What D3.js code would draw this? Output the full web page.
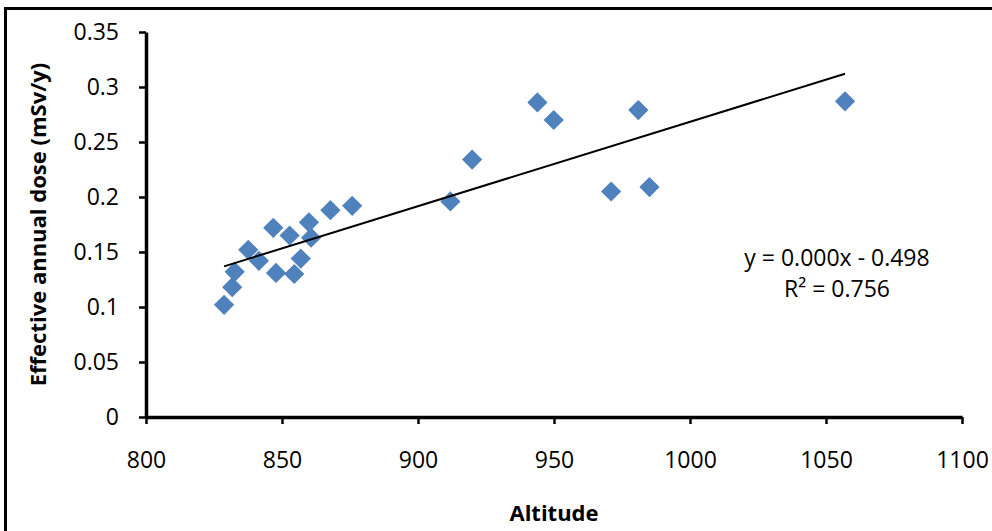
<!DOCTYPE html>
<html>
<head>
<meta charset="utf-8">
<script src="https://cdn.jsdelivr.net/npm/d3@7"></script>
<style>
  body { margin: 0; background: #fff; }
  text { font-family: "Open Sans", sans-serif; fill: #000; }
</style>
</head>
<body>
<script>
// altitude (x) and effective annual dose (y)
var altitude = [828.7, 831.7, 832.6, 837.6, 841.5, 846.8, 847.8, 852.8, 854.5, 856.9, 859.9,
                860.7, 867.8, 875.8, 911.9, 919.9, 943.9, 949.9, 971.0, 981.0, 985.1, 1057.0];
var dose = [0.102, 0.118, 0.132, 0.152, 0.142, 0.172, 0.131, 0.165, 0.130, 0.144, 0.177,
            0.163, 0.188, 0.192, 0.196, 0.234, 0.286, 0.270, 0.205, 0.279, 0.209, 0.287];

var xTicks = [800, 850, 900, 950, 1000, 1050, 1100];
var yTicks = [0, 0.05, 0.1, 0.15, 0.2, 0.25, 0.3, 0.35];
var eqLines = ["y = 0.000x - 0.498", "R² = 0.756"];

w = 992;
h = 531;

margin = {top: 32, right: 30, bottom: 114, left: 146};
width = w - margin.left - margin.right;
height = h - margin.top - margin.bottom;

var svg = d3.select("body")
  .append("svg")
    .attr("width", w)
    .attr("height", h);

// outer frame (only top and left edges are inside the picture)
svg.append("rect")
    .attr("x", 5.5)
    .attr("y", 8.5)
    .attr("width", 1200)
    .attr("height", 800)
    .attr("fill", "none")
    .attr("stroke", "#000")
    .attr("stroke-width", 3);

var g = svg.append("g")
    .attr("transform", "translate(" + margin.left + "," + margin.top + ")");

x = d3.scaleLinear().domain([800, 1100]).range([0, width]);
y = d3.scaleLinear().domain([0, 0.35]).range([height, 0]);

// least squares trend line
var data = altitude.map(function(a, i) { return {x: a, y: dose[i]}; });
var mx = d3.mean(altitude), my = d3.mean(dose);
var sxy = d3.sum(data, function(d) { return (d.x - mx) * (d.y - my); });
var sxx = d3.sum(data, function(d) { return (d.x - mx) * (d.x - mx); });
var slope = sxy / sxx, icpt = my - slope * mx;
var xr = d3.extent(altitude);

// axes
var xAxis = g.append("g")
    .attr("transform", "translate(0," + height + ")")
    .call(d3.axisBottom(x).tickValues(xTicks).tickSize(7).tickSizeOuter(0).tickPadding(28)
      .tickFormat(d3.format("d")));
var yAxis = g.append("g")
    .call(d3.axisLeft(y).tickValues(yTicks).tickSize(7).tickSizeOuter(0).tickPadding(20)
      .tickFormat(function(d) { return String(+d.toFixed(2)); }));

[xAxis, yAxis].forEach(function(a) {
  a.select(".domain").attr("stroke-width", 3.5);
  a.selectAll(".tick line").attr("stroke-width", 2.5);
  a.selectAll("text").attr("font-size", 23).attr("font-family", "Open Sans").attr("fill", "#000");
});

g.selectAll(".pt")
  .data(data)
  .enter().append("path")
    .attr("class", "pt")
    .attr("d", d3.symbol().type(d3.symbolSquare).size(205))
    .attr("transform", function(d) { return "translate(" + x(d.x) + "," + y(d.y) + ") rotate(45)"; })
    .attr("fill", "#4f81bd");

g.append("line")
    .attr("x1", x(xr[0])).attr("y1", y(slope * xr[0] + icpt))
    .attr("x2", x(xr[1])).attr("y2", y(slope * xr[1] + icpt))
    .attr("stroke", "#000")
    .attr("stroke-width", 2);

// equation
g.selectAll(".eq")
  .data(eqLines)
  .enter().append("text")
    .attr("class", "eq")
    .attr("x", 837 - margin.left)
    .attr("y", function(d, i) { return 266 - margin.top + i * 31; })
    .attr("text-anchor", "middle")
    .attr("font-size", 23)
    .text(function(d) { return d; });

// axis titles
svg.append("text")
    .attr("x", margin.left + width / 2)
    .attr("y", 521)
    .attr("text-anchor", "middle")
    .attr("font-size", 22)
    .attr("font-weight", "bold")
    .text("Altitude");

svg.append("text")
    .attr("transform", "translate(46," + (margin.top + height / 2) + ") rotate(-90)")
    .attr("text-anchor", "middle")
    .attr("font-size", 22)
    .attr("font-weight", "bold")
    .text("Effective annual dose (mSv/y)");
</script>
</body>
</html>
